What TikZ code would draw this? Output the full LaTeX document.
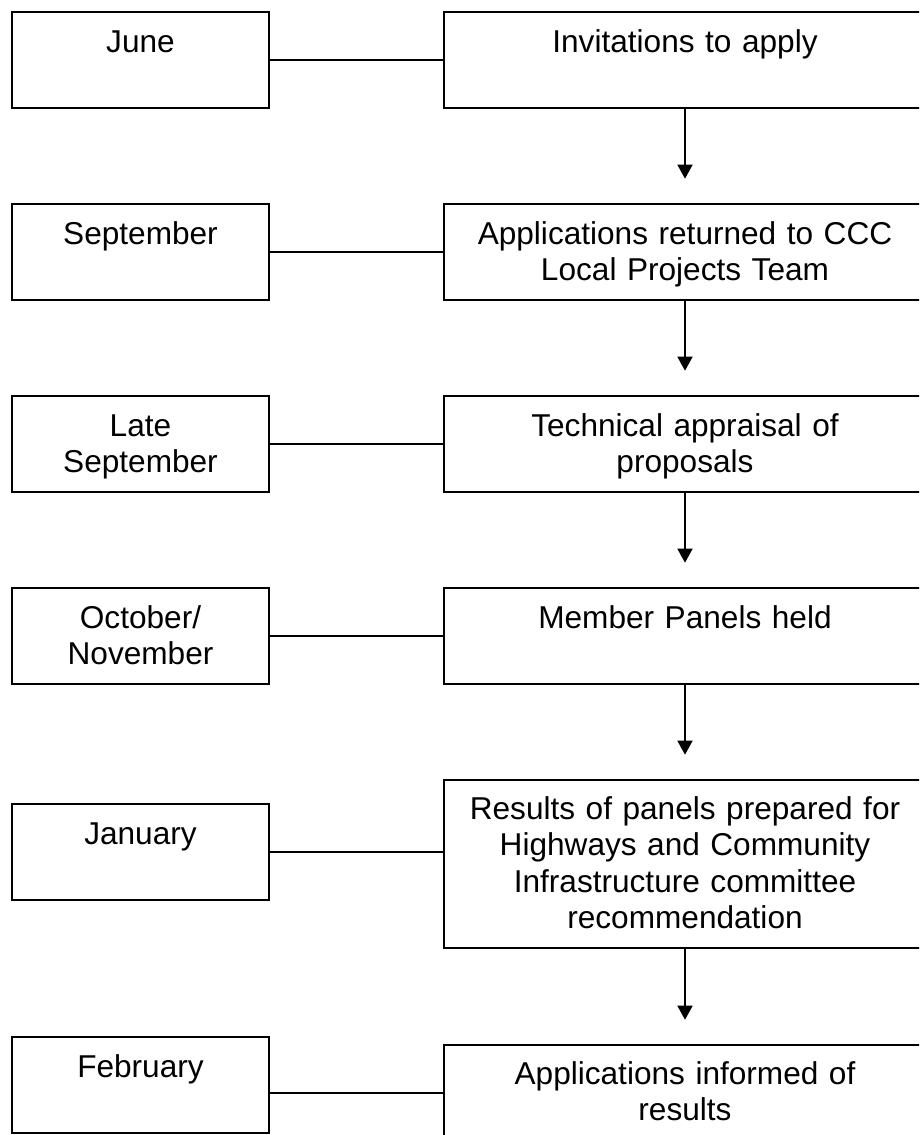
\documentclass[tikz,border=0pt]{standalone}
\usepackage{fontspec}
\setmainfont{Liberation Sans}
\usetikzlibrary{arrows.meta,calc}
\begin{document}
\begin{tikzpicture}[x=1pt,y=-1pt,
  lbox/.style={draw, line width=1.6pt, inner sep=0pt, minimum width=257pt, minimum height=96pt},
  rbox/.style={draw, line width=1.6pt, inner sep=0pt, minimum width=482pt, minimum height=96pt},
  lbl/.style={inner sep=0pt, align=center, anchor=base, font=\fontsize{31.6pt}{36.5pt}\selectfont},
  link/.style={line width=1.6pt},
  arr/.style={line width=1.6pt, -{Triangle[length=14pt,width=15pt]}, shorten >=24.5pt}]
\clip (0,0) rectangle (919,1135);
\useasboundingbox (0,0) rectangle (919,1135);
% left boxes
\node[lbox] (L1) at (140.5,60) {};
\node[lbox] (L2) at (140.5,252) {};
\node[lbox] (L3) at (140.5,444) {};
\node[lbox] (L4) at (140.5,636) {};
\node[lbox] (L5) at (140.5,852) {};
\node[lbox] (L6) at (140.5,1085) {};
% right boxes
\node[rbox] (R1) at (685,60) {};
\node[rbox] (R2) at (685,252) {};
\node[rbox] (R3) at (685,444) {};
\node[rbox] (R4) at (685,636) {};
\node[rbox, minimum height=168pt] (R5) at (685,864) {};
\node[rbox] (R6) at (685,1093) {};
% labels
\node[lbl, text width=250pt] (tL1) at ($(L1.north)+(0,41)$) {June};
\node[lbl, text width=250pt] (tL2) at ($(L2.north)+(0,41)$) {September};
\node[lbl, text width=250pt] (tL3) at ($(L3.north)+(0,41)$) {Late\\September};
\node[lbl, text width=250pt] (tL4) at ($(L4.north)+(0,41)$) {October/\\November};
\node[lbl, text width=250pt] (tL5) at ($(L5.north)+(0,41)$) {January};
\node[lbl, text width=250pt] (tL6) at ($(L6.north)+(0,41)$) {February};
\node[lbl, text width=470pt] (tR1) at ($(R1.north)+(0,41)$) {Invitations to apply};
\node[lbl, text width=470pt] (tR2) at ($(R2.north)+(0,41)$) {Applications returned to CCC\\Local Projects Team};
\node[lbl, text width=470pt] (tR3) at ($(R3.north)+(0,41)$) {Technical appraisal of\\proposals};
\node[lbl, text width=470pt] (tR4) at ($(R4.north)+(0,41)$) {Member Panels held};
\node[lbl, text width=470pt] (tR5) at ($(R5.north)+(0,40)$) {Results of panels prepared for\\Highways and Community\\Infrastructure committee\\recommendation};
\node[lbl, text width=470pt] (tR6) at ($(R6.north)+(0,40)$) {Applications informed of\\results};
% horizontal links
\draw[link] (L1.east) -- (R1.west);
\draw[link] (L2.east) -- (R2.west);
\draw[link] (L3.east) -- (R3.west);
\draw[link] (L4.east) -- (R4.west);
\draw[link] (L5.east) -- (L5.east -| R5.west);
\draw[link] (L6.east |- R6.west) -- (R6.west);
% arrows
\draw[arr] (R1.south) -- (R2.north);
\draw[arr] (R2.south) -- (R3.north);
\draw[arr] (R3.south) -- (R4.north);
\draw[arr] (R4.south) -- (R5.north);
\draw[arr] (R5.south) -- (R6.north);
\end{tikzpicture}
\end{document}
